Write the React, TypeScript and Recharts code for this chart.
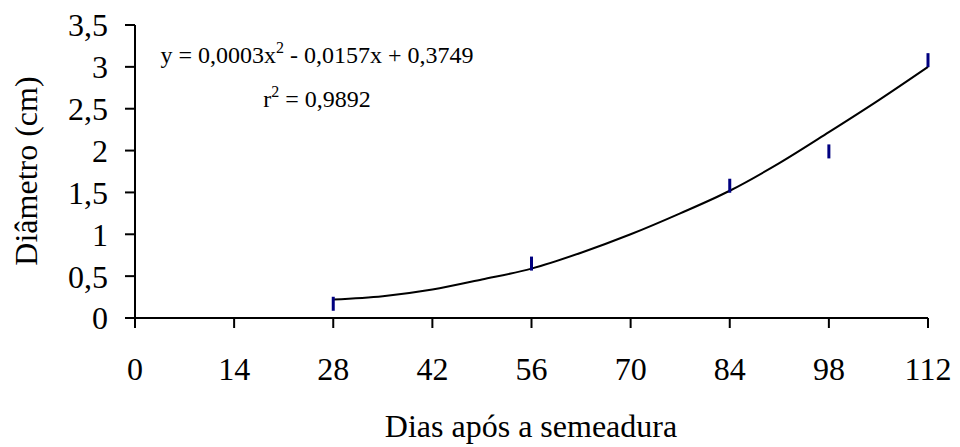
import React from 'react';
import { ComposedChart, Line, XAxis, YAxis, Label } from 'recharts';

// Days after sowing (x positions for the fitted curve)
const days = [28, 35, 42, 49, 56, 63, 70, 77, 84, 91, 98, 105, 112];
// Fitted polynomial trend line
const trendValues = [0.22, 0.26, 0.34, 0.46, 0.59, 0.78, 1.0, 1.25, 1.52, 1.85, 2.22, 2.6, 3.0];
// Observed diameter (cm), null where not measured
const observedValues = [0.17, null, null, null, 0.65, null, null, null, 1.58, null, 1.99, null, 3.08];

const xTicks = [0, 14, 28, 42, 56, 70, 84, 98, 112];
const yTicks = [0, 0.5, 1, 1.5, 2, 2.5, 3, 3.5];

const equationText = ['y = 0,0003x', '2', ' - 0,0157x + 0,3749'];
const r2Text = ['r', '2', ' = 0,9892'];
const xTitle = 'Dias após a semeadura';
const yTitle = 'Diâmetro (cm)';

const data = days.map((d, i) => ({ day: d, trend: trendValues[i], obs: observedValues[i] }));

const FONT = '"Liberation Serif", "Times New Roman", serif';

const fmt = (v: number) => String(v).replace('.', ',');

const ObsDot = (props: any) => {
  const { cx, cy, value, index } = props;
  if (value == null || cy == null || cx == null) return <g key={`d${index}`} />;
  return <rect key={`d${index}`} x={cx - 1.5} y={cy - 7} width={3} height={14} fill="#000080" />;
};

const Annotations = () => (
  <g fontFamily={FONT} fill="#000">
    <text x={309} y={55} textAnchor="middle" fontSize={24}>
      <tspan>{equationText[0]}</tspan>
      <tspan fontSize={16} dy={-10}>{equationText[1]}</tspan>
      <tspan dy={10}>{equationText[2]}</tspan>
    </text>
    <text x={309} y={99} textAnchor="middle" fontSize={24}>
      <tspan>{r2Text[0]}</tspan>
      <tspan fontSize={16} dy={-10}>{r2Text[1]}</tspan>
      <tspan dy={10}>{r2Text[2]}</tspan>
    </text>
    <text x={523} y={429} textAnchor="middle" fontSize={32}>{xTitle}</text>
    <text x={29} y={163} textAnchor="middle" fontSize={32} transform="rotate(-90 29 163)">{yTitle}</text>
  </g>
);

export default function App() {
  return (
    <div style={{ width: 944, height: 439, background: '#fff' }}>
      <ComposedChart
        width={944}
        height={439}
        data={data}
        margin={{ top: 17, right: 24, bottom: 69, left: 67 }}
      >
        <XAxis
          dataKey="day"
          type="number"
          domain={[0, 112]}
          ticks={xTicks}
          interval={0}
          height={60}
          axisLine={{ stroke: '#000', strokeWidth: 2 }}
          tickLine={{ stroke: '#000', strokeWidth: 2 }}
          tickSize={10}
          tickMargin={29}
          tick={{ fill: '#000', fontSize: 32, fontFamily: FONT }}
        >
          <Label content={() => <Annotations />} />
        </XAxis>
        <YAxis
          type="number"
          domain={[0, 3.5]}
          ticks={yTicks}
          interval={0}
          width={60}
          axisLine={{ stroke: '#000', strokeWidth: 2 }}
          tickLine={{ stroke: '#000', strokeWidth: 2 }}
          tickSize={10}
          tickMargin={17}
          tickFormatter={fmt}
          tick={{ fill: '#000', fontSize: 32, fontFamily: FONT }}
        />
        <Line
          dataKey="trend"
          type="monotone"
          stroke="#000"
          strokeWidth={2}
          dot={false}
          activeDot={false}
          isAnimationActive={false}
        />
        <Line
          dataKey="obs"
          stroke="none"
          dot={ObsDot}
          activeDot={false}
          isAnimationActive={false}
        />
      </ComposedChart>
    </div>
  );
}
